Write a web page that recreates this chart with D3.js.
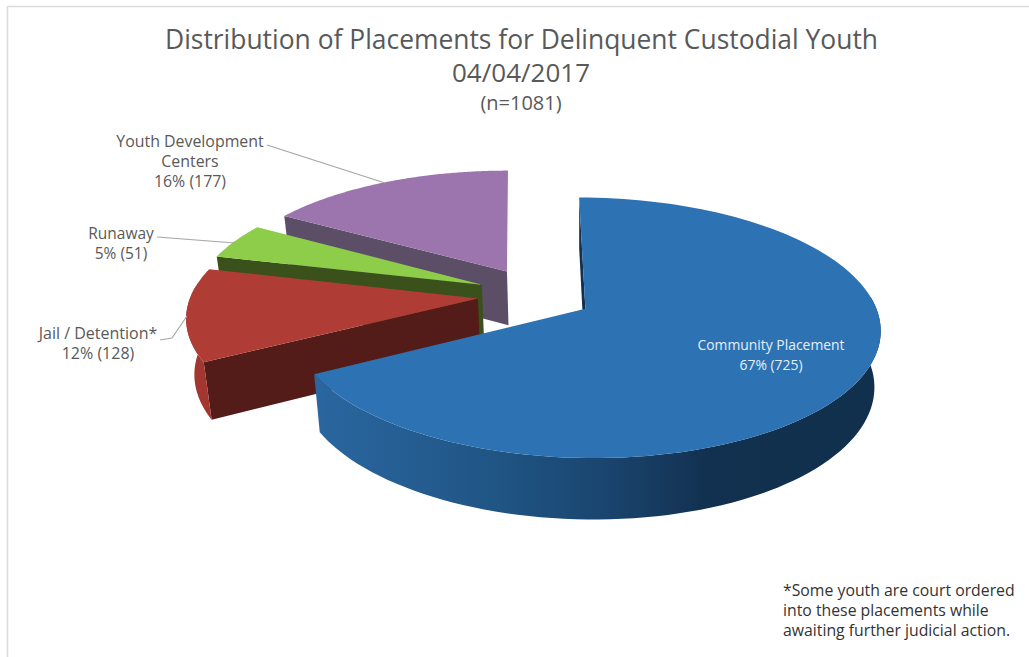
<!DOCTYPE html>
<html><head><meta charset="utf-8">
<script src="https://cdn.jsdelivr.net/npm/d3@7/dist/d3.min.js"></script>
<style>html,body{margin:0;padding:0;background:#fff}svg{display:block}text{font-family:"Open Sans",sans-serif}</style>
</head><body><svg id="c" width="1029" height="657"></svg>
<script>
const categories = ["Community Placement", "Jail / Detention*", "Runaway", "Youth Development Centers"];
const values = [725, 128, 51, 177];
const n = 1081;
const topColors = ["#2d72b3", "#b03c36", "#8dcd4a", "#9d75ae"];
const wallColors = ["#12304f", "#541c18", "#3b511c", "#5d4e68"];
const outerColors = ["url(#blueSide)", "#a33630", "#5f8a2c", "#6b5a78"];
const titleLines = ["Distribution of Placements for Delinquent Custodial Youth", "04/04/2017", "(n=1081)"];
const noteLines = ["*Some youth are court ordered", "into these placements while", "awaiting further judicial action."];
const labelLines = [["Community Placement"], ["Jail / Detention*"], ["Runaway"], ["Youth Development", "Centers"]];

const svg = d3.select("#c");
const defs = svg.append("defs");
const grad = defs.append("linearGradient").attr("id", "blueSide").attr("gradientUnits", "userSpaceOnUse")
  .attr("x1", 318).attr("x2", 880).attr("y1", 0).attr("y2", 0);
[[0, "#2a669f"], [.3, "#205686"], [.5, "#1a4670"], [.7, "#12304f"], [1, "#11304e"]]
  .forEach(d => grad.append("stop").attr("offset", d[0]).attr("stop-color", d[1]));

// frame
svg.append("path").attr("d", "M7.5,657V6.5H1029").attr("fill", "none").attr("stroke", "#dcdcdc").attr("stroke-width", 1.5);

// 3D projection of the pie plane
const C = [535.5, 295], EX = 58, EY = 27, RX = 294, RY = 130, T0 = -0.146, VX = 519, LEAN = 0.00084;
const pie = d3.pie().sort(null).startAngle(0).endAngle(2 * Math.PI);
const arcs = pie(values);
function drop(p) {
  return [p[0] + 0.021 * (580 - p[0]), p[1] + 58 * (1 + 0.0007 * (p[1] - 373))];
}
const line = d3.line();
const slices = arcs.map((d, i) => {
  const mid = (d.startAngle + d.endAngle) / 2;
  const apex = [C[0] + EX * Math.sin(mid), C[1] - EY * Math.cos(mid)];
  const kx = 1 - (308 - apex[1]) * 0.001, ky = 1 - (308 - apex[1]) * 0.0025;
  const pt = a => {
    const u = Math.sin(a), v = -Math.cos(a), den = 1 + T0 * v;
    const t = (v + T0) / den, s = u * Math.sqrt(1 - T0 * T0) / den;
    const dy = ky * RY * (t - T0);
    return [apex[0] + kx * RX * s + (apex[0] - VX) * LEAN * dy, apex[1] + dy];
  };
  const steps = d3.range(0, 121).map(j => d.startAngle + (d.endAngle - d.startAngle) * j / 120);
  return { i, apex, rim: steps.map(pt), front: steps.filter(a => Math.cos(a) < 0.1).map(pt) };
});

const g = svg.append("g");
[3, 2, 1, 0].forEach(i => {
  const s = slices[i];
  const a = s.apex, r = s.rim;
  // radial wall at the start of the slice
  g.append("path").attr("d", line([a, r[0], drop(r[0]), drop(a)]) + "Z").attr("fill", wallColors[i]);
  // outer wall, only where it faces the viewer
  if (s.front.length) {
    g.append("path").attr("d", line(s.front.concat(s.front.map(drop).reverse())) + "Z").attr("fill", outerColors[i]);
  }
  // top face
  g.append("path").attr("d", line([a].concat(r)) + "Z").attr("fill", topColors[i]);
});

// titles
const titleStyle = [[521.5, 49, 26.5, 713], [521, 82, 26], [521, 110, 20]];
titleLines.forEach((t, i) => {
  const el = svg.append("text").attr("x", titleStyle[i][0]).attr("y", titleStyle[i][1])
    .attr("text-anchor", "middle").attr("font-size", titleStyle[i][2]).attr("fill", "#595959").text(t);
  if (titleStyle[i][3]) el.attr("textLength", titleStyle[i][3]).attr("lengthAdjust", "spacingAndGlyphs");
});

// labels
const labelPos = [[771, 350, "#e6eef7", 13.9], [98, 339, "#595959", 16], [121, 238.5, "#595959", 15.5], [190, 146.5, "#595959", 15.9]];
arcs.forEach((d, i) => {
  const lines = labelLines[i].concat(`${Math.round(d.value / n * 100)}% (${d.value})`);
  const p = labelPos[i];
  lines.forEach((t, j) => svg.append("text").attr("x", p[0]).attr("y", p[1] + j * 20)
    .attr("text-anchor", "middle").attr("font-size", p[3]).attr("fill", p[2]).text(t));
});

// leader lines
[[[267, 145], [385, 183]], [[157, 237], [235, 243]], [[160, 340], [172, 338], [187, 316]]].forEach(l =>
  svg.append("path").attr("d", line(l)).attr("fill", "none").attr("stroke", "#a6a6a6").attr("stroke-width", 1.2));

// footnote
noteLines.forEach((t, i) => svg.append("text").attr("x", 783).attr("y", 596 + i * 20)
  .attr("font-size", 15.8).attr("fill", "#333").text(t));
</script></body></html>
